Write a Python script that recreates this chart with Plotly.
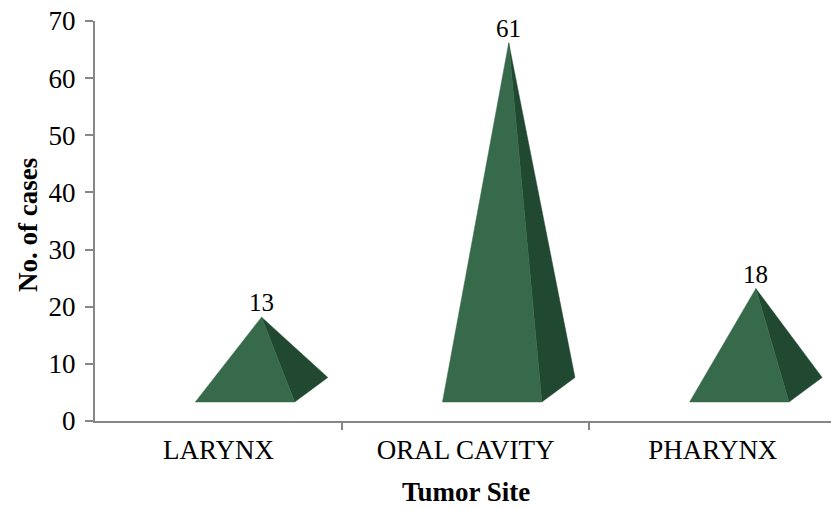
import plotly.graph_objects as go

# ---- data ----
categories = ["LARYNX", "ORAL CAVITY", "PHARYNX"]
cases = [13, 61, 18]
y_ticks = [0, 10, 20, 30, 40, 50, 60, 70]

# ---- layout constants ----
W, H = 831, 509
ML, MR, MT, MB = 95, 0, 21, 88
X_RANGE = [-0.5, 2.478]
Y_RANGE = [0, 70]
AXIS_COLOR = "#868686"
FONT = "Liberation Serif, Times New Roman, serif"

FRONT = "#366A4B"
SIDE = "#214830"
# pseudo-3D pyramid geometry (axis units)
FLOOR = 3.33
HALF_W = 0.201
SHIFT = 0.107
DEPTH_X = 0.134
DEPTH_Y = 4.29
APEX_LIFT = 5.17

fig = go.Figure()
annotations = []
for i, (cat, v) in enumerate(zip(categories, cases)):
    cx = i + SHIFT
    xl, xr = cx - HALF_W, cx + HALF_W
    bx, by = xr + DEPTH_X, FLOOR + DEPTH_Y
    ax_, ay_ = cx + DEPTH_X / 2, APEX_LIFT + v
    fig.add_trace(go.Scatter(
        x=[xr, bx, ax_, xr], y=[FLOOR, by, ay_, FLOOR],
        fill="toself", fillcolor=SIDE, mode="lines",
        line=dict(color=SIDE, width=0.5), hoverinfo="skip", showlegend=False))
    fig.add_trace(go.Scatter(
        x=[xl, xr, ax_, xl], y=[FLOOR, FLOOR, ay_, FLOOR],
        fill="toself", fillcolor=FRONT, mode="lines",
        line=dict(color=FRONT, width=0.5), hoverinfo="skip", showlegend=False,
        name=cat))
    annotations.append(dict(
        x=ax_, y=ay_, xref="x", yref="y", text=str(v), showarrow=False,
        xanchor="center", yanchor="bottom", yshift=-1,
        font=dict(family=FONT, size=25, color="black")))

annotations.append(dict(
    x=(466 - ML) / (W - ML - MR), y=(H - MB - 492) / (H - MT - MB),
    xref="paper", yref="paper", text="<b>Tumor Site</b>", showarrow=False,
    xanchor="center", yanchor="middle",
    font=dict(family=FONT, size=27, color="black")))
annotations.append(dict(
    x=(28 - ML) / (W - ML - MR), y=(H - MB - 225) / (H - MT - MB),
    xref="paper", yref="paper", text="<b>No. of cases</b>", showarrow=False,
    textangle=-90, xanchor="center", yanchor="middle",
    font=dict(family=FONT, size=27, color="black")))

fig.update_layout(
    width=W, height=H,
    margin=dict(l=ML, r=MR, t=MT, b=MB, pad=0),
    plot_bgcolor="white", paper_bgcolor="white",
    font=dict(family=FONT, size=26, color="black"),
    showlegend=False,
    annotations=annotations,
    xaxis=dict(
        range=X_RANGE, tickmode="array", tickvals=list(range(len(categories))),
        ticktext=categories, ticks="", showgrid=False, zeroline=False,
        showline=True, linecolor=AXIS_COLOR, linewidth=2,
        tickfont=dict(family=FONT, size=27, color="black"),
        ticklabelstandoff=4,
        minor=dict(tickmode="array", tickvals=[0.5, 1.5], ticks="outside",
                   ticklen=7, tickcolor=AXIS_COLOR, tickwidth=1.5, showgrid=False),
        fixedrange=True),
    yaxis=dict(
        range=Y_RANGE, tickmode="array", tickvals=y_ticks,
        ticks="outside", ticklen=8, tickcolor=AXIS_COLOR, tickwidth=1.5,
        showgrid=False, zeroline=False,
        showline=True, linecolor=AXIS_COLOR, linewidth=2,
        tickfont=dict(family=FONT, size=27, color="black"),
        ticklabelstandoff=4,
        fixedrange=True),
)

fig.write_html(
    "out.html",
    config={"displayModeBar": False},
    post_script="document.body.style.margin='0';document.body.style.overflow='hidden';",
)
